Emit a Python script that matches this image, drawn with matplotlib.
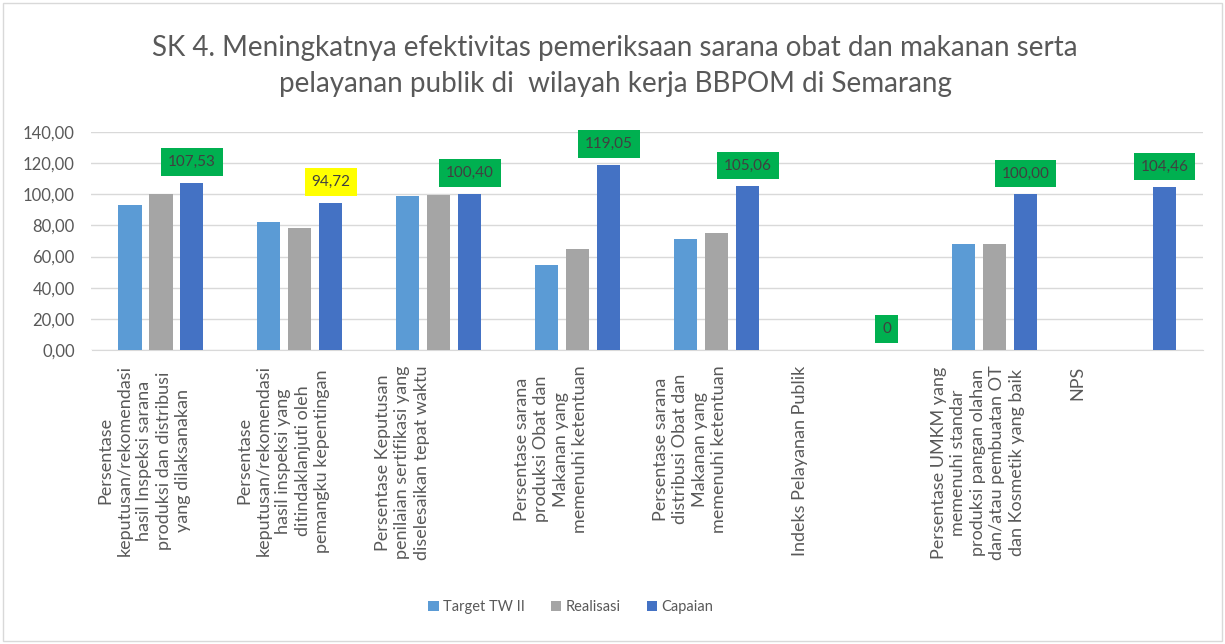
import numpy as np
import matplotlib
matplotlib.use("Agg")
from matplotlib import pyplot as plt
from matplotlib import transforms
from matplotlib.patches import Rectangle

categories = [
    "Persentase\nkeputusan/rekomendasi\nhasil Inspeksi sarana\nproduksi dan distribusi\nyang dilaksanakan",
    "Persentase\nkeputusan/rekomendasi\nhasil inspeksi yang\nditindaklanjuti oleh\npemangku kepentingan",
    "Persentase Keputusan\npenilaian sertifikasi yang\ndiselesaikan tepat waktu",
    "Persentase sarana\nproduksi Obat dan\nMakanan yang\nmemenuhi ketentuan",
    "Persentase sarana\ndistribusi Obat dan\nMakanan yang\nmemenuhi ketentuan",
    "Indeks Pelayanan Publik",
    "Persentase UMKM yang\nmemenuhi standar\nproduksi pangan olahan\ndan/atau pembuatan OT\ndan Kosmetik yang baik",
    "NPS",
]
target = [93.0, 82.5, 99.0, 54.6, 71.4, np.nan, 68.2, np.nan]
realisasi = [100.0, 78.14, 99.4, 65.0, 75.0, np.nan, 68.2, np.nan]
capaian = [107.53, 94.72, 100.40, 119.05, 105.06, 0, 100.00, 104.46]
capaian_labels = ["107,53", "94,72", "100,40", "119,05", "105,06", "0", "100,00", "104,46"]
label_fill = ["#00B050", "#FFFF00", "#00B050", "#00B050", "#00B050", "#00B050", "#00B050", "#00B050"]

title = "SK 4. Meningkatnya efektivitas pemeriksaan sarana obat dan makanan serta\npelayanan publik di  wilayah kerja BBPOM di Semarang"

W, H = 1225, 644
fig = plt.figure(figsize=(W / 100, H / 100), dpi=100)
fig.patch.set_facecolor("white")
fig.patches.append(Rectangle((3 / W, 3 / H), 1 - 6 / W, 1 - 6 / H, transform=fig.transFigure,
                             fill=False, edgecolor="#D9D9D9", linewidth=1))

ax = fig.add_axes([91.5 / W, 1 - 350 / H, (1203 - 91.5) / W, (350 - 132) / H])
x = np.arange(len(categories))
step, bw = 0.223, 0.166
ax.bar(x - step, target, bw, color="#5B9BD5", label="Target TW II", zorder=3)
ax.bar(x, realisasi, bw, color="#A5A5A5", label="Realisasi", zorder=3)
ax.bar(x + step, capaian, bw, color="#4472C4", label="Capaian", zorder=3)

for i, v in enumerate(capaian):
    ax.annotate(capaian_labels[i], (x[i] + step, v), xytext=(0, 15), textcoords="offset points",
                ha="center", va="center", fontsize=11, color="#404040", family="Lato", zorder=5,
                bbox=dict(boxstyle="square,pad=0.45", facecolor=label_fill[i], edgecolor="none"))

ax.set_xlim(-0.5, len(categories) - 0.5)
ax.set_ylim(0, 140)
ax.set_yticks(np.arange(0, 141, 20))
ax.set_yticklabels([f"{t:.2f}".replace(".", ",") for t in np.arange(0, 141, 20)],
                   fontsize=12, color="#595959", family="Lato")
ax.set_xticks([])
ax.tick_params(axis="y", length=0, pad=12)
ax.grid(axis="y", color="#D9D9D9", linewidth=1, zorder=0)
for s in ["top", "right", "left"]:
    ax.spines[s].set_visible(False)
ax.spines["bottom"].set_color("#D9D9D9")

trans = transforms.blended_transform_factory(ax.transData, ax.transAxes)
for i, lab in enumerate(categories):
    ax.text(x[i] - 0.46, -0.07, lab, transform=trans, rotation=90, ha="left", va="top",
            multialignment="center", fontsize=13, color="#595959", family="Lato", linespacing=1.27)

fig.text(0.502, 1 - 66 / H, title, ha="center", va="center", fontsize=20, color="#595959",
         family="Lato", linespacing=1.45)

fig.legend(loc="center", bbox_to_anchor=(571 / W, 1 - 607 / H), ncol=3, frameon=False,
           prop={"family": "Lato", "size": 10.5}, labelcolor="#595959", handlelength=0.7,
           handleheight=0.7, handletextpad=0.3, columnspacing=1.8)

fig.savefig("out.png", dpi=100)
